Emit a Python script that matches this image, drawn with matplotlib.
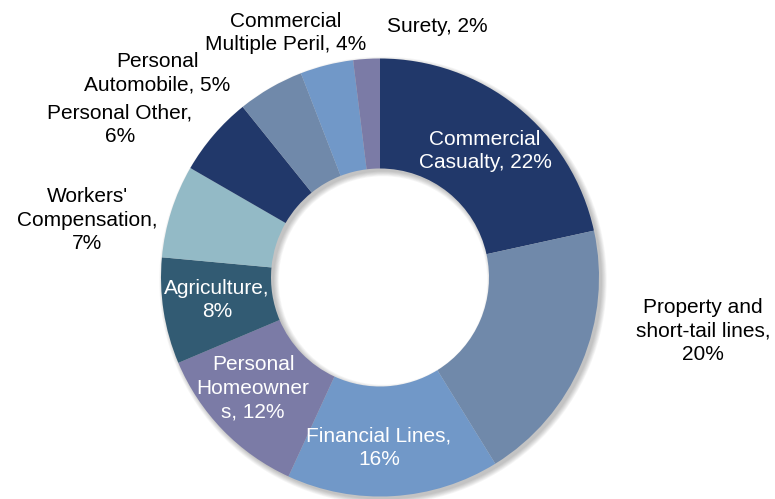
import matplotlib
matplotlib.use("Agg")
import matplotlib.pyplot as plt
from matplotlib.patches import Wedge

# Portfolio mix by line of business (%)
categories = [
    "Commercial Casualty",
    "Property and short-tail lines",
    "Financial Lines",
    "Personal Homeowners",
    "Agriculture",
    "Workers' Compensation",
    "Personal Other",
    "Personal Automobile",
    "Commercial Multiple Peril",
    "Surety",
]
shares = [22, 20, 16, 12, 8, 7, 6, 5, 4, 2]

# Label text as it is wrapped on the chart
label_texts = [
    "Commercial\nCasualty, 22%",
    "Property and\nshort-tail lines,\n20%",
    "Financial Lines,\n16%",
    "Personal\nHomeowner\ns, 12%",
    "Agriculture,\n8%",
    "Workers'\nCompensation,\n7%",
    "Personal Other,\n6%",
    "Personal\nAutomobile, 5%",
    "Commercial\nMultiple Peril, 4%",
    "Surety, 2%",
]

palette = ["#21386a", "#7089aa", "#7198c8", "#7b7ba6", "#325b73", "#93bac6"]
colors = [palette[i % len(palette)] for i in range(len(shares))]

W, H = 775, 499
fig = plt.figure(figsize=(W / 100, H / 100), dpi=100)
ax = fig.add_axes([0, 0, 1, 1])

cx, cy = 380, H - 277.5
r_out, ring = 219, 110

# soft drop shadow of the ring (down and to the right)
dx, dy = 3.0, -3.0
for k in range(7):
    ax.add_patch(Wedge((cx + dx, cy + dy), r_out + k * 0.8, 0, 360,
                       width=ring + k * 1.6, facecolor="#000000",
                       alpha=0.035, edgecolor="none", zorder=0))

ax.pie(shares, colors=colors, startangle=90, counterclock=False,
       radius=r_out, center=(cx, cy),
       wedgeprops=dict(width=ring, edgecolor="none"))

# label positions (x, y measured from the top edge) and text colour
label_pos = [
    (485, 151), (703, 331), (379, 448), (253, 388), (217, 300),
    (87, 220), (120, 125), (157, 73), (286, 33), (437, 26),
]
inside = [True, False, True, True, True, False, False, False, False, False]

for txt, (x, y), ins in zip(label_texts, label_pos, inside):
    ax.text(x, H - y, txt, ha="center", va="center", multialignment="center",
            fontsize=15, family="Liberation Sans", linespacing=1.32,
            color="white" if ins else "black", zorder=5)

ax.set_xlim(0, W)
ax.set_ylim(0, H)
ax.set_aspect("equal")
ax.axis("off")

fig.savefig("out.png", dpi=100, facecolor="white")
